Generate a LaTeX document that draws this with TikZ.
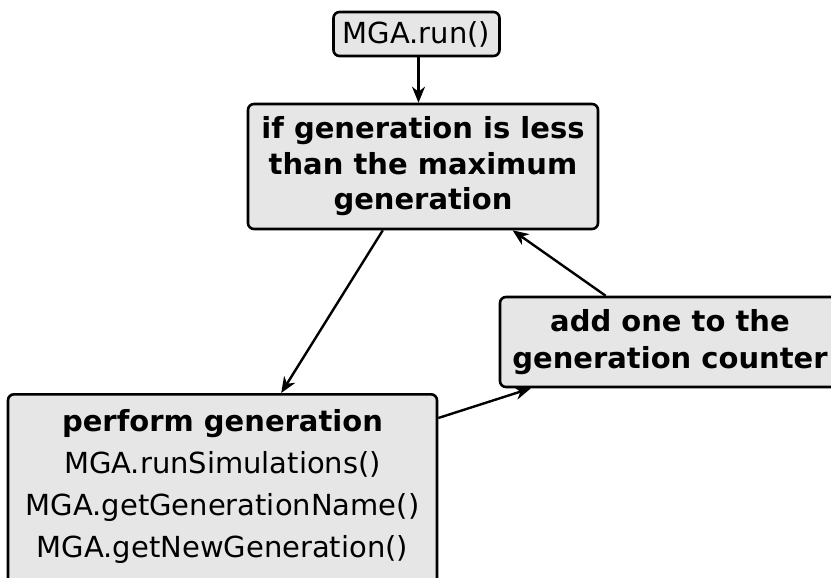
\documentclass[tikz,border=0pt]{standalone}
\usepackage{fontspec}
\setmainfont{DejaVu Sans}
\usetikzlibrary{arrows.meta,calc}
\definecolor{boxgray}{RGB}{230,230,230}
\tikzset{
  flowbox/.style={draw=black, line width=2.6pt, fill=boxgray, rounded corners=6pt,
    align=center, inner sep=0pt},
  boldtext/.style={font=\fontsize{29}{35.5}\selectfont\bfseries},
  plaintext/.style={font=\fontsize{29}{42}\selectfont},
  flowarrow/.style={-{Stealth[length=16pt,width=13pt,inset=5pt]}, line width=2.4pt}
}
\begin{document}
\begin{tikzpicture}[x=1pt,y=-1pt]
  \path[use as bounding box, clip] (0,0) rectangle (831,578);

  \node[flowbox, plaintext, minimum width=166pt, minimum height=44pt] (run) at (416.5,34) {MGA.run()};
  \node[flowbox, boldtext, minimum width=350pt, minimum height=125pt] (cond) at (423,166.5)
    {if generation is less\\than the maximum\\generation};
  \node[flowbox, boldtext, font=\fontsize{29}{37.5}\selectfont\bfseries,
        minimum width=340pt, minimum height=90pt] (add) at (670,342)
    {add one to the\\generation counter};
  \node[flowbox, plaintext, minimum width=429pt, inner ysep=15pt, text depth=140pt,
        anchor=north] (perf) at (222.5,393)
    {\bfseries perform generation\\
     MGA.runSimulations()\\
     MGA.getGenerationName()\\
     MGA.getNewGeneration()};

  \draw[flowarrow] ([xshift=2pt]run.south) -- ([xshift=2pt]run.south |- cond.north);
  \draw[flowarrow] ($(cond.south west)!0.386!(cond.south east)$)
                -- ($(perf.north west)!0.636!(perf.north east)$);
  \draw[flowarrow] ($(add.north west)!0.312!(add.north east)$)
                -- ($(cond.south west)!0.754!(cond.south east)$);
  \draw[flowarrow] ([yshift=-25pt]perf.north east)
                -- ($(add.south west)!0.094!(add.south east)$);
\end{tikzpicture}
\end{document}
